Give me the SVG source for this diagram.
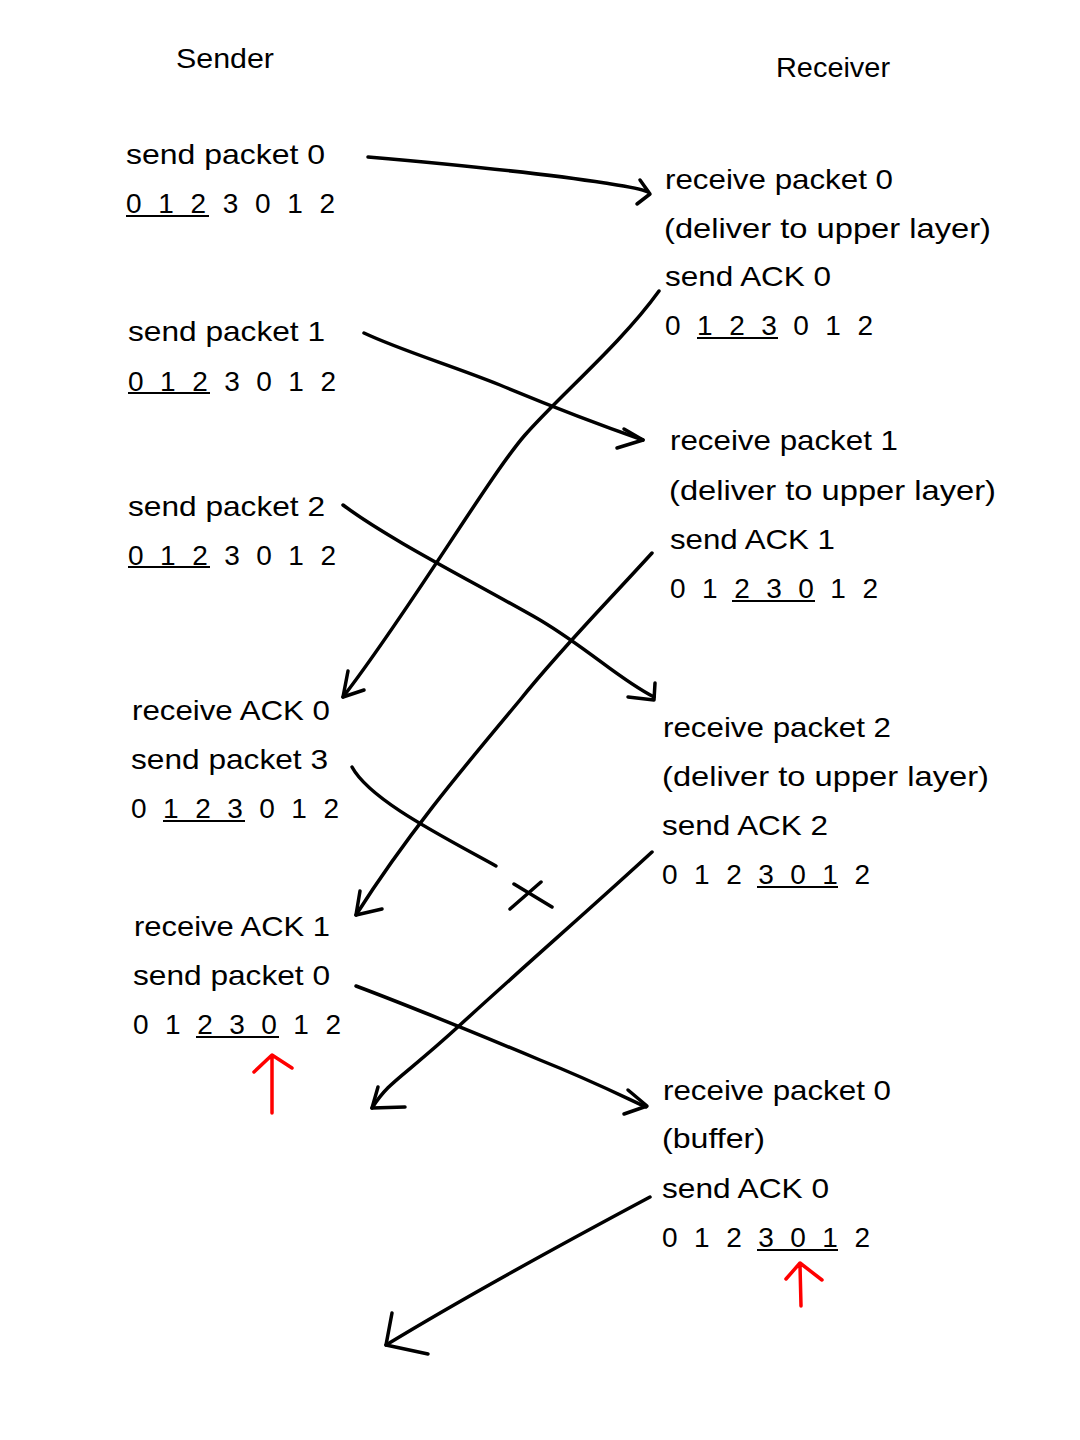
<svg xmlns="http://www.w3.org/2000/svg" width="1080" height="1440" viewBox="0 0 1080 1440">
<defs>
<style>
text{font-family:"Liberation Sans","DejaVu Sans",sans-serif;font-size:28px;fill:#000}
.c{fill:none;stroke:#000;stroke-width:3.5;stroke-linecap:round;stroke-linejoin:round}
.u{stroke:#000;stroke-width:2.2}
.r{fill:none;stroke:#f00;stroke-width:3.5;stroke-linecap:round;stroke-linejoin:round}
</style>
</defs>
<rect width="1080" height="1440" fill="#fff"/>
<g id="titles">
<text x="176" y="68" textLength="98" lengthAdjust="spacingAndGlyphs">Sender</text>
<text x="776" y="77" textLength="114" lengthAdjust="spacingAndGlyphs">Receiver</text>
</g>
<g id="s1">
<text x="126" y="164" textLength="199" lengthAdjust="spacingAndGlyphs">send packet 0</text>
<text x="126" y="213" textLength="209" lengthAdjust="spacing">0 1 2 3 0 1 2</text>
<line class="u" x1="126" y1="216" x2="209" y2="216"/>
</g>
<g id="s2">
<text x="128" y="341" textLength="197" lengthAdjust="spacingAndGlyphs">send packet 1</text>
<text x="128" y="391" textLength="208" lengthAdjust="spacing">0 1 2 3 0 1 2</text>
<line class="u" x1="128" y1="393" x2="210" y2="393"/>
</g>
<g id="s3">
<text x="128" y="516" textLength="197" lengthAdjust="spacingAndGlyphs">send packet 2</text>
<text x="128" y="565" textLength="208" lengthAdjust="spacing">0 1 2 3 0 1 2</text>
<line class="u" x1="128" y1="567" x2="210" y2="567"/>
</g>
<g id="s4">
<text x="132" y="720" textLength="198" lengthAdjust="spacingAndGlyphs">receive ACK 0</text>
<text x="131" y="769" textLength="197" lengthAdjust="spacingAndGlyphs">send packet 3</text>
<text x="131" y="818" textLength="208" lengthAdjust="spacing">0 1 2 3 0 1 2</text>
<line class="u" x1="163" y1="821" x2="245" y2="821"/>
</g>
<g id="s5">
<text x="134" y="936" textLength="196" lengthAdjust="spacingAndGlyphs">receive ACK 1</text>
<text x="133" y="985" textLength="197" lengthAdjust="spacingAndGlyphs">send packet 0</text>
<text x="133" y="1034" textLength="208" lengthAdjust="spacing">0 1 2 3 0 1 2</text>
<line class="u" x1="196" y1="1037" x2="279" y2="1037"/>
<path class="r" d="M272,1113 L272,1056 M254,1072 L272,1055 L292,1068"/>
</g>
<g id="r1">
<text x="665" y="189" textLength="228" lengthAdjust="spacingAndGlyphs">receive packet 0</text>
<text x="664" y="238" textLength="327" lengthAdjust="spacingAndGlyphs">(deliver to upper layer)</text>
<text x="665" y="286" textLength="166" lengthAdjust="spacingAndGlyphs">send ACK 0</text>
<text x="665" y="335" textLength="208" lengthAdjust="spacing">0 1 2 3 0 1 2</text>
<line class="u" x1="697" y1="338" x2="778" y2="338"/>
</g>
<g id="r2">
<text x="670" y="450" textLength="228" lengthAdjust="spacingAndGlyphs">receive packet 1</text>
<text x="669" y="500" textLength="327" lengthAdjust="spacingAndGlyphs">(deliver to upper layer)</text>
<text x="670" y="549" textLength="165" lengthAdjust="spacingAndGlyphs">send ACK 1</text>
<text x="670" y="598" textLength="208" lengthAdjust="spacing">0 1 2 3 0 1 2</text>
<line class="u" x1="732" y1="601" x2="815" y2="601"/>
</g>
<g id="r3">
<text x="663" y="737" textLength="228" lengthAdjust="spacingAndGlyphs">receive packet 2</text>
<text x="662" y="786" textLength="327" lengthAdjust="spacingAndGlyphs">(deliver to upper layer)</text>
<text x="662" y="835" textLength="166" lengthAdjust="spacingAndGlyphs">send ACK 2</text>
<text x="662" y="884" textLength="208" lengthAdjust="spacing">0 1 2 3 0 1 2</text>
<line class="u" x1="757" y1="887" x2="838" y2="887"/>
</g>
<g id="r4">
<text x="663" y="1100" textLength="228" lengthAdjust="spacingAndGlyphs">receive packet 0</text>
<text x="662" y="1148" textLength="103" lengthAdjust="spacingAndGlyphs">(buffer)</text>
<text x="662" y="1198" textLength="167" lengthAdjust="spacingAndGlyphs">send ACK 0</text>
<text x="662" y="1247" textLength="208" lengthAdjust="spacing">0 1 2 3 0 1 2</text>
<line class="u" x1="757" y1="1250" x2="838" y2="1250"/>
<path class="r" d="M801,1306 L800,1265 M786,1279 L800,1263 L822,1280"/>
</g>
<g id="connectors">
<path class="c" d="M368,157 C470,166 560,176 605,183 C625,186 640,188 648,192"/>
<path class="c" d="M640,180 L650,194 L637,204"/>
<path class="c" d="M659,291 C620,345 560,395 525,435 S410,610 343,697"/>
<path class="c" d="M348,671 L343,697 L364,690"/>
<path class="c" d="M364,333 C400,350 450,365 500,385 C560,410 600,425 643,440"/>
<path class="c" d="M624,429 L643,440 L617,448"/>
<path class="c" d="M652,553 C600,610 560,650 520,700 C470,760 410,830 356,915"/>
<path class="c" d="M360,891 L356,915 L382,909"/>
<path class="c" d="M343,505 C390,540 470,580 540,620 C590,650 620,680 654,697"/>
<path class="c" d="M655,683 L654,700 L628,697"/>
<path class="c" d="M352,767 C370,800 440,835 496,866"/>
<path class="c" d="M510,909 L541,882 M514,884 L552,907"/>
<path class="c" d="M652,852 C600,900 520,970 460,1025 S390,1080 372,1108"/>
<path class="c" d="M378,1087 L372,1108 L405,1107"/>
<path class="c" d="M356,986 C420,1010 480,1035 540,1060 C590,1080 620,1095 646,1107"/>
<path class="c" d="M628,1090 L647,1106 L624,1114"/>
<path class="c" d="M650,1197 C560,1245 460,1300 386,1345"/>
<path class="c" d="M392,1313 L386,1345 L428,1354"/>
</g>
</svg>
